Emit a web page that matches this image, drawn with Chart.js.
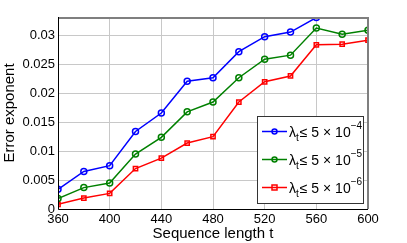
<!DOCTYPE html>
<html>
<head>
<meta charset="utf-8">
<script src="https://cdn.jsdelivr.net/npm/chart.js@4"></script>
<style>
  html, body { margin: 0; padding: 0; background: #fff; }
  #wrap { width: 407px; height: 243px; }
</style>
</head>
<body>
<div id="wrap"><canvas id="chart"></canvas></div>
<script>
const lengths = [360, 380, 400, 420, 440, 460, 480, 500, 520, 540, 560, 580, 600]
const exp4 = [0.0034, 0.0065, 0.0075, 0.0134, 0.0166, 0.0221, 0.0227, 0.0272, 0.0298, 0.0306, 0.0331]
const exp5 = [0.0018, 0.0037, 0.0045, 0.0095, 0.0124, 0.0168, 0.0185, 0.0227, 0.0259, 0.0266, 0.0313, 0.0302, 0.0309]
const exp6 = [0.0008, 0.0019, 0.0027, 0.0070, 0.0088, 0.0114, 0.0125, 0.0185, 0.0220, 0.0230, 0.0284, 0.0285, 0.0292]
const legendExps = ['\u22124', '\u22125', '\u22126']
const xTicks = [360, 400, 440, 480, 520, 560, 600]
const yTicks = [0, 0.005, 0.01, 0.015, 0.02, 0.025, 0.03]

const FONT = "'Liberation Sans', Arial, sans-serif"

const toPoints = vals => vals.map((v, i) => ({ x: lengths[i], y: v }))

const series = [
  { data: exp4, color: '#0000ff', marker: 'circle' },
  { data: exp5, color: '#008000', marker: 'circle' },
  { data: exp6, color: '#ff0000', marker: 'rect' }
]

// axes box + matlab style legend
const boxAndLegend = {
  id: 'boxAndLegend',
  afterDatasetsDraw(chart) {
    const { ctx, chartArea: a } = chart
    ctx.save()
    ctx.strokeStyle = '#7f7f7f'
    ctx.lineWidth = 2
    ctx.beginPath()
    ctx.moveTo(a.left, a.top + 1)
    ctx.lineTo(a.right, a.top + 1)
    ctx.lineTo(a.right, a.bottom)
    ctx.stroke()
    ctx.strokeStyle = '#000'
    ctx.lineWidth = 1
    ctx.beginPath()
    ctx.moveTo(a.left + 0.5, a.top)
    ctx.lineTo(a.left + 0.5, a.bottom + 0.5)
    ctx.lineTo(a.right, a.bottom + 0.5)
    ctx.stroke()

    // legend
    const lx = 257, ly = 116, lw = 106, lh = 87
    ctx.fillStyle = '#fff'
    ctx.fillRect(lx, ly, lw, lh)
    ctx.strokeStyle = '#333'
    ctx.lineWidth = 1
    ctx.strokeRect(lx + 0.5, ly + 0.5, lw, lh)
    const rows = [131.5, 159.5, 187.5]
    series.forEach((s, i) => {
      const y = rows[i]
      ctx.strokeStyle = s.color
      ctx.lineWidth = 1.5
      ctx.beginPath()
      ctx.moveTo(262, y)
      ctx.lineTo(287, y)
      ctx.stroke()
      ctx.beginPath()
      if (s.marker === 'circle') ctx.arc(274.5, y, 2.5, 0, Math.PI * 2)
      else ctx.rect(272, y - 2.5, 5, 5)
      ctx.stroke()

      ctx.fillStyle = '#000'
      ctx.textBaseline = 'alphabetic'
      ctx.textAlign = 'left'
      let x = 289
      ctx.font = '14px ' + FONT
      ctx.fillText('\u03bb', x, y + 5)
      x += ctx.measureText('\u03bb').width
      ctx.font = '10px ' + FONT
      ctx.fillText('t', x, y + 9)
      x += ctx.measureText('t').width + 1
      ctx.font = '14px ' + FONT
      const main = '\u2264 5 \u00d7 10'
      ctx.fillText(main, x, y + 5)
      x += ctx.measureText(main).width
      ctx.font = '10px ' + FONT
      ctx.fillText(legendExps[i], x, y - 3)
    })
    ctx.restore()
  }
}

new Chart(document.getElementById('chart'), {
  type: 'line',
  data: {
    datasets: series.map(s => ({
      data: toPoints(s.data),
      borderColor: s.color,
      backgroundColor: 'transparent',
      borderWidth: 1.5,
      pointStyle: s.marker,
      pointRadius: 3,
      pointBorderWidth: 1.5,
      pointBackgroundColor: 'transparent',
      pointBorderColor: s.color,
      tension: 0
    }))
  },
  options: {
    responsive: true,
    maintainAspectRatio: false,
    animation: false,
    layout: { padding: { top: 17, right: 39, left: 0, bottom: 0 } },
    plugins: { legend: { display: false }, tooltip: { enabled: false } },
    scales: {
      x: {
        type: 'linear',
        min: 360,
        max: 600,
        afterBuildTicks: scale => { scale.ticks = xTicks.map(v => ({ value: v })) },
        afterFit: scale => { scale.height = 34 },
        border: { display: false },
        grid: { color: '#c8c8c8', borderDash: [1, 2], drawTicks: false },
        ticks: { color: '#000', padding: 3, maxRotation: 0, font: { family: FONT, size: 13 } },
        title: { display: true, text: 'Sequence length t', color: '#000', padding: 0, font: { family: FONT, size: 15 } }
      },
      y: {
        min: 0,
        max: 0.0332,
        afterBuildTicks: scale => { scale.ticks = yTicks.map(v => ({ value: v })) },
        afterFit: scale => { scale.width = 58 },
        border: { display: false },
        grid: { color: '#c8c8c8', borderDash: [1, 2], drawTicks: false },
        ticks: {
          color: '#000',
          padding: 3,
          font: { family: FONT, size: 13 },
          callback: v => String(Number(v.toFixed(3)))
        },
        title: { display: true, text: 'Error exponent', color: '#000', padding: 1, font: { family: FONT, size: 15 } }
      }
    }
  },
  plugins: [boxAndLegend]
})
</script>
</body>
</html>
